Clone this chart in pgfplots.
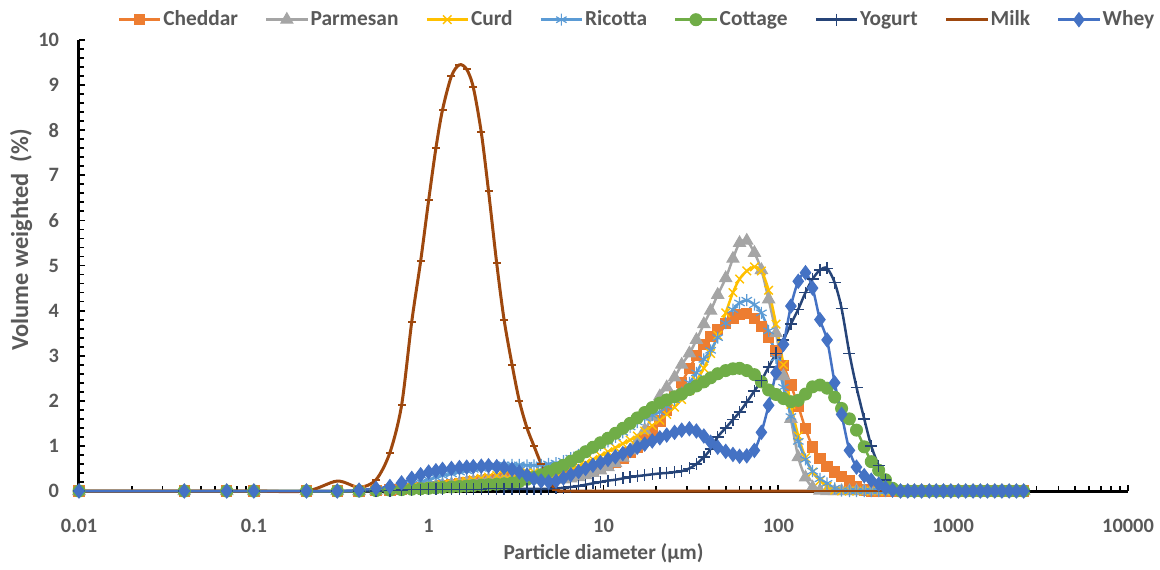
\documentclass[border=0pt]{standalone}
\usepackage{pgfplots}
\pgfplotsset{compat=1.18}
\usepackage{pgfplotstable}
\usepackage{fontspec}
\setmainfont{Carlito}
\usetikzlibrary{plotmarks}
\definecolor{cched}{HTML}{ED7D31}
\definecolor{cparm}{HTML}{A5A5A5}
\definecolor{ccurd}{HTML}{FFC000}
\definecolor{cric}{HTML}{5B9BD5}
\definecolor{ccott}{HTML}{70AD47}
\definecolor{cyog}{HTML}{264478}
\definecolor{cmilk}{HTML}{9E480E}
\definecolor{cwhey}{HTML}{4472C4}
\definecolor{txt}{HTML}{595959}

\pgfplotstableread{
x ched parm curd ric cott yog milk whey
0.01 0 0 0 0 0 0 0 0
0.04 0 0 0 0 0 0 0 0
0.07 0 0 0 0 0 0 0 0
0.1 0 0 0 0 0 0 0 0
0.2 0 0 0 0 0 0 0 0
0.3 0 0 0 0 0 0 0.22 0
0.4 0 0 0 0 0 0 0.08 0.02
0.5 0.01 0.01 0.01 0.02 0.01 0 0.25 0.06
0.6 0.02 0.02 0.03 0.05 0.02 0.01 0.85 0.10
0.7 0.04 0.04 0.05 0.10 0.03 0.02 1.9 0.18
0.8 0.06 0.06 0.07 0.15 0.04 0.03 3.75 0.28
0.9 0.07 0.08 0.09 0.20 0.05 0.03 5.1 0.36
1.0 0.08 0.10 0.10 0.25 0.06 0.04 6.45 0.42
1.1 0.10 0.11 0.12 0.30 0.07 0.04 7.6 0.45
1.2 0.12 0.13 0.14 0.34 0.08 0.04 8.45 0.48
1.35 0.14 0.15 0.16 0.38 0.09 0.04 9.2 0.50
1.5 0.16 0.17 0.19 0.42 0.10 0.04 9.45 0.52
1.65 0.18 0.19 0.22 0.45 0.11 0.04 9.35 0.53
1.8 0.20 0.21 0.25 0.48 0.12 0.04 8.95 0.54
2.0 0.22 0.23 0.28 0.50 0.13 0.04 7.95 0.55
2.2 0.24 0.25 0.31 0.53 0.14 0.05 6.65 0.56
2.45 0.26 0.27 0.34 0.56 0.15 0.05 5.05 0.54
2.7 0.28 0.28 0.36 0.58 0.16 0.05 3.8 0.52
3.0 0.29 0.29 0.38 0.58 0.18 0.05 2.8 0.48
3.3 0.30 0.29 0.40 0.58 0.21 0.05 2.0 0.42
3.65 0.30 0.28 0.41 0.57 0.26 0.05 1.4 0.35
4.0 0.30 0.27 0.42 0.57 0.30 0.05 1.0 0.27
4.4 0.30 0.26 0.41 0.58 0.36 0.05 0.6 0.22
4.85 0.30 0.25 0.40 0.60 0.43 0.05 0.25 0.20
5.35 0.30 0.25 0.40 0.62 0.50 0.06 0.02 0.22
5.9 0.31 0.26 0.43 0.66 0.57 0.07 0 0.29
6.5 0.33 0.28 0.48 0.73 0.66 0.09 0 0.36
7.2 0.36 0.31 0.55 0.80 0.76 0.11 0 0.43
7.9 0.40 0.35 0.62 0.88 0.87 0.14 0 0.50
8.7 0.45 0.40 0.70 0.95 0.97 0.17 0 0.57
9.6 0.50 0.46 0.78 1.02 1.07 0.20 0 0.63
10.6 0.56 0.53 0.87 1.10 1.17 0.23 0 0.70
11.7 0.63 0.62 0.96 1.20 1.28 0.25 0 0.76
12.9 0.72 0.74 1.05 1.30 1.39 0.28 0 0.83
14.2 0.85 0.90 1.13 1.42 1.50 0.31 0 0.90
15.6 0.98 1.10 1.22 1.53 1.62 0.33 0 0.97
17.2 1.13 1.35 1.33 1.62 1.74 0.35 0 1.04
19 1.32 1.65 1.45 1.68 1.85 0.37 0 1.11
21 1.55 2.10 1.57 1.75 1.95 0.39 0 1.18
23 1.80 2.30 1.70 1.88 2.02 0.40 0 1.24
25.5 2.10 2.52 1.86 2.02 2.09 0.42 0 1.30
28 2.40 2.80 2.03 2.18 2.15 0.44 0 1.35
31 2.72 3.05 2.23 2.40 2.25 0.50 0 1.38
34 3.00 3.35 2.45 2.62 2.33 0.60 0 1.33
37.5 3.25 3.70 2.72 2.92 2.42 0.75 0 1.22
41 3.42 4.00 3.05 3.12 2.51 0.93 0 1.08
45 3.58 4.35 3.45 3.40 2.60 1.20 0 0.97
50 3.72 4.72 3.95 3.72 2.67 1.40 0 0.88
55 3.84 5.15 4.40 4.02 2.71 1.58 0 0.81
60 3.92 5.50 4.70 4.17 2.72 1.75 0 0.77
66 3.93 5.55 4.88 4.23 2.67 1.97 0 0.78
73 3.82 5.28 4.97 4.13 2.58 2.22 0 0.90
80 3.65 4.90 4.88 3.95 2.42 2.45 0 1.30
88 3.40 4.25 4.45 3.55 2.24 2.75 0 1.90
97 3.10 3.50 3.70 2.95 2.14 3.05 0 2.62
107 2.78 2.55 2.80 2.30 2.05 3.35 0 3.25
118 2.35 1.60 1.92 1.65 1.98 3.70 0 4.10
130 1.88 0.75 1.22 1.10 2.01 4.03 0 4.65
143 1.38 0.30 0.74 0.70 2.15 4.40 0 4.84
157 0.98 0.08 0.42 0.44 2.31 4.70 0 4.50
173 0.72 0.01 0.23 0.27 2.35 4.90 0 3.80
190 0.55 0 0.10 0.17 2.28 4.94 0 3.35
210 0.42 0 0.02 0.06 2.08 4.62 0 2.40
230 0.32 0 0 0.01 1.83 4.05 0 1.70
255 0.22 0 0 0 1.60 3.05 0 0.90
280 0.10 0 0 0 1.35 2.30 0 0.53
310 0.02 0 0 0 0.98 1.60 0 0.34
340 0 0 0 0 0.65 1.00 0 0.24
375 0 0 0 0 0.46 0.56 0 0.15
410 0 0 0 0 0.25 0.24 0 0.07
450 0 0 0 0 0.06 0.03 0 0.02
500 0 0 0 0 0 0 0 0
550 0 0 0 0 0 0 0 0
600 0 0 0 0 0 0 0 0
660 0 0 0 0 0 0 0 0
730 0 0 0 0 0 0 0 0
800 0 0 0 0 0 0 0 0
880 0 0 0 0 0 0 0 0
970 0 0 0 0 0 0 0 0
1070 0 0 0 0 0 0 0 0
1180 0 0 0 0 0 0 0 0
1300 0 0 0 0 0 0 0 0
1430 0 0 0 0 0 0 0 0
1570 0 0 0 0 0 0 0 0
1730 0 0 0 0 0 0 0 0
1900 0 0 0 0 0 0 0 0
2090 0 0 0 0 0 0 0 0
2300 0 0 0 0 0 0 0 0
2530 0 0 0 0 0 0 0 0
}\psd

\begin{document}
\begin{tikzpicture}
\path[use as bounding box] (0,0) rectangle (580pt,284.5pt);
\begin{axis}[
  at={(39.5pt,39pt)}, anchor=south west,
  scale only axis, width=524.5pt, height=225.5pt,
  xmode=log, log basis x=10,
  xmin=0.01, xmax=10000, ymin=0, ymax=10,
  axis x line=bottom, axis y line=left,
  axis line style={line width=1.5pt, black, -},
  tick align=inside,
  xtick={0.01,0.1,1,10,100,1000,10000},
  xticklabels={0.01,0.1,1,10,100,1000,10000},
  minor xtick={0.02,0.03,0.04,0.05,0.06,0.07,0.08,0.09,0.2,0.3,0.4,0.5,0.6,0.7,0.8,0.9,2,3,4,5,6,7,8,9,20,30,40,50,60,70,80,90,200,300,400,500,600,700,800,900,2000,3000,4000,5000,6000,7000,8000,9000},
  ytick={0,1,2,3,4,5,6,7,8,9,10},
  yticklabels={0,1,2,3,4,5,6,7,8,9,10},
  minor y tick num=4,
  major tick length=3pt, minor tick length=2.5pt,
  every tick/.style={black, line width=0.9pt},
  tick label style={font=\fontsize{10.2}{12}\selectfont\bfseries, text=txt},
  xticklabel style={yshift=-10.5pt},
  yticklabel style={xshift=-6.5pt},
  clip=false,
  legend columns=-1,
  legend style={at={(0.532,1.045)}, anchor=center, draw=none, fill=none,
    font=\fontsize{10.7}{12}\selectfont\bfseries, text=txt,
    nodes={inner sep=1pt},
    /tikz/every even column/.append style={column sep=12.5pt}},
  legend image code/.code={\draw[mark repeat=2,mark phase=2] plot coordinates {(0pt,0pt) (10.25pt,0pt) (20.5pt,0pt)};},
  every axis plot/.append style={line width=1.25pt, smooth},
]
\addplot[color=cched, mark=square*, mark size=2.6pt, mark options={solid, fill=cched, line width=0.5pt}] table[x=x,y=ched]{\psd};
\addlegendentry{Cheddar}
\addplot[color=cparm, mark=triangle*, mark size=3.5pt, mark options={solid, fill=cparm, line width=0.5pt}] table[x=x,y=parm]{\psd};
\addlegendentry{Parmesan}
\addplot[color=ccurd, mark=x, mark size=3pt, mark options={solid, line width=0.7pt}] table[x=x,y=curd]{\psd};
\addlegendentry{Curd}
\addplot[color=cric, mark=asterisk, mark size=3pt, mark options={solid, line width=0.6pt}] table[x=x,y=ric]{\psd};
\addlegendentry{Ricotta}
\addplot[color=ccott, mark=*, mark size=3pt, mark options={solid, fill=ccott, line width=0.5pt}] table[x=x,y=cott]{\psd};
\addlegendentry{Cottage}
\addplot[color=cyog, mark=+, mark size=3pt, mark options={solid, line width=0.7pt}] table[x=x,y=yog]{\psd};
\addlegendentry{Yogurt}
\addplot[color=cmilk, line width=1.5pt, mark=-, mark size=2pt, mark options={solid, line width=1pt}] table[x=x,y=milk]{\psd};
\addlegendentry{Milk}
\addplot[color=cwhey, mark=diamond*, mark size=3.5pt, mark options={solid, fill=cwhey, line width=0.5pt}] table[x=x,y=whey]{\psd};
\addlegendentry{Whey}
\end{axis}
\node[rotate=90, anchor=base, font=\fontsize{12.2}{14}\selectfont\bfseries, text=txt] at (14pt,164.5pt) {Volume weighted\ \ (\%)};
\node[anchor=base, font=\fontsize{10.7}{12}\selectfont\bfseries, text=txt] at (301.75pt,5pt) {Particle diameter (µm)};
\end{tikzpicture}
\end{document}
